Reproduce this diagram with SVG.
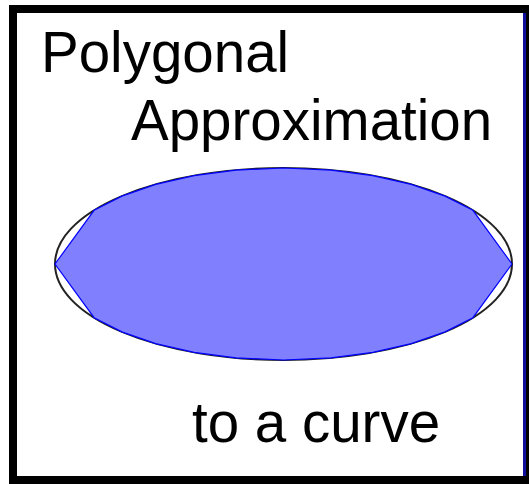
<svg xmlns="http://www.w3.org/2000/svg" width="529" height="484" viewBox="0 0 529 484">
<style>
.lbl{font-family:"Liberation Sans",Arial,sans-serif;font-size:56.5px;fill:#000}
</style>
<rect x="0" y="0" width="529" height="484" fill="#fff"/>
<g id="frame">
<rect x="9" y="5" width="520" height="479" fill="#000"/>
<rect x="17" y="13" width="509" height="463" fill="#1010a0"/>
<rect x="17" y="13" width="506" height="463" fill="#fff"/>
</g>
<g id="curve">
<ellipse cx="283.5" cy="264" rx="228.5" ry="96" fill="none" stroke="#222" stroke-width="2"/>
</g>
<g id="polygon">
<polygon points="512,264 472.9,210.3 445.1,196.1 411.3,184.4 372.8,175.6 331,170.1 283.5,168 236,170.1 194.2,175.6 155.7,184.4 121.9,196.1 94.1,210.3 55,264 94.1,317.7 121.9,331.9 155.7,343.6 194.2,352.4 236,357.9 283.5,360 331,357.9 372.8,352.4 411.3,343.6 445.1,331.9 472.9,317.7" fill="#8080ff" stroke="#0000ff" stroke-width="1.2"/>
</g>
<g id="labels">
<text class="lbl" x="41" y="72">Polygonal</text>
<text class="lbl" x="131" y="140">Approximation</text>
<text class="lbl" x="192" y="442">to a curve</text>
</g>
</svg>
